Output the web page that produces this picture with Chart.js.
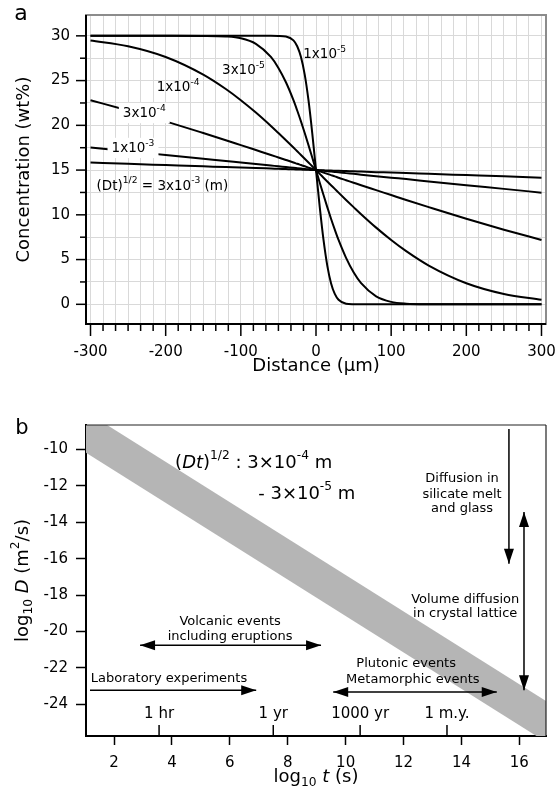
<!DOCTYPE html>
<html>
<head>
<meta charset="utf-8">
<script src="https://cdn.jsdelivr.net/npm/chart.js@4.4.1/dist/chart.umd.min.js"></script>
<style>
  html, body { margin: 0; padding: 0; background: #fff; }
  #wrap { position: relative; width: 557px; height: 801px; }
  canvas { position: absolute; left: 0; }
  #cA { top: 0; }
  #cB { top: 390px; }
</style>
</head>
<body>
<div id="wrap">
  <canvas id="cA" width="557" height="385"></canvas>
  <canvas id="cB" width="557" height="411"></canvas>
</div>
<script>
const FONT = '"DejaVu Sans", sans-serif';
Chart.defaults.font.family = FONT;
Chart.defaults.color = '#000';

// ---- panel a: concentration profiles ----
const distance = [-300, -250, -200, -150, -120, -100, -80, -60, -50, -40, -30, -25, -20, -15, -10, -5,
  0, 5, 10, 15, 20, 25, 30, 40, 50, 60, 80, 100, 120, 150, 200, 250, 300];
const conc1e5 = [30, 30, 30, 30, 30, 30, 30, 30, 29.99, 29.93, 29.49, 28.84, 27.64, 25.67, 22.81, 19.14,
  15, 10.86, 7.19, 4.33, 2.36, 1.16, 0.51, 0.07, 0.01, 0, 0, 0, 0, 0, 0, 0, 0];
const conc3e5 = [30, 30, 30, 29.99, 29.93, 29.73, 29.11, 27.64, 26.42, 24.81, 22.81, 21.66, 20.44, 19.14, 17.79, 16.41,
  15, 13.59, 12.21, 10.86, 9.56, 8.34, 7.19, 5.19, 3.58, 2.36, 0.89, 0.27, 0.07, 0.01, 0, 0, 0];
const conc1e4 = [29.49, 28.84, 27.64, 25.67, 24.06, 22.81, 21.43, 19.93, 19.14, 18.34, 17.52, 17.10, 16.69, 16.27, 15.85, 15.42,
  15, 14.58, 14.15, 13.73, 13.31, 12.90, 12.48, 11.66, 10.86, 10.07, 8.57, 7.19, 5.94, 4.33, 2.36, 1.16, 0.51];
const conc3e4 = [22.81, 21.66, 20.44, 19.14, 18.34, 17.79, 17.24, 16.69, 16.41, 16.13, 15.85, 15.70, 15.56, 15.42, 15.28, 15.14,
  15, 14.86, 14.72, 14.58, 14.44, 14.30, 14.15, 13.87, 13.59, 13.31, 12.76, 12.21, 11.66, 10.86, 9.56, 8.34, 7.19];
const conc1e3 = [17.52, 17.10, 16.69, 16.27, 16.01, 15.85, 15.68, 15.51, 15.42, 15.34, 15.25, 15.21, 15.17, 15.13, 15.08, 15.04,
  15, 14.96, 14.92, 14.87, 14.83, 14.79, 14.75, 14.66, 14.58, 14.49, 14.32, 14.15, 13.99, 13.73, 13.31, 12.90, 12.48];
const conc3e3 = [15.85, 15.70, 15.56, 15.42, 15.34, 15.28, 15.23, 15.17, 15.14, 15.11, 15.08, 15.07, 15.06, 15.04, 15.03, 15.01,
  15, 14.99, 14.97, 14.96, 14.94, 14.93, 14.92, 14.89, 14.86, 14.83, 14.77, 14.72, 14.66, 14.58, 14.44, 14.30, 14.15];
const curvesA = [conc1e5, conc3e5, conc1e4, conc3e4, conc1e3, conc3e3];

// labels of the curves, placed in data units (distance, concentration)
const curveNotes = [
  { x: -17, y: 27.9, parts: [['1x10'], ['-5', 'sup']] },
  { x: -125, y: 26.1, parts: [['3x10'], ['-5', 'sup']] },
  { x: -212, y: 24.2, parts: [['1x10'], ['-4', 'sup']] },
  { x: -257, y: 21.3, parts: [['3x10'], ['-4', 'sup']], bg: true },
  { x: -272, y: 17.4, parts: [['1x10'], ['-3', 'sup']], bg: true },
  { x: -292, y: 13.2, parts: [['(Dt)'], ['1/2', 'sup'], [' = 3x10'], ['-3', 'sup'], [' (m)']] }
];

// ---- panel b: log D vs log t ----
const bandT = [1, 17];
const bandUpper = [-7.9, -23.9];   // (Dt)^1/2 = 3e-4 m
const bandLower = [-10.15, -26.15]; // (Dt)^1/2 = 3e-5 m
const timeMarks = [3.556, 7.5, 10.5, 13.5];
const timeMarkLabels = ['1 hr', '1 yr', '1000 yr', '1 m.y.'];

const labArrowT = [1.17, 6.91], labArrowD = [-23.23, -23.23];
const volcArrowT = [2.90, 9.15], volcArrowD = [-20.75, -20.75];
const plutArrowT = [9.57, 15.22], plutArrowD = [-23.32, -23.32];
const meltArrowT = [15.64, 15.64], meltArrowD = [-8.88, -16.28];
const crystArrowT = [16.16, 16.16], crystArrowD = [-13.44, -23.23];

const notesB = [
  { x: 4.11, y: -10.75, align: 'left', size: 18, parts: [['('], ['Dt', 'i'], [')'], ['1/2', 'sup'], [' : 3×10'], ['-4', 'sup'], [' m']] },
  { x: 6.98, y: -12.46, align: 'left', size: 18, parts: [['- 3×10'], ['-5', 'sup'], [' m']] },
  { x: 14.02, y: -11.63, parts: [['Diffusion in']] },
  { x: 14.02, y: -12.47, parts: [['silicate melt']] },
  { x: 14.02, y: -13.28, parts: [['and glass']] },
  { x: 14.13, y: -18.25, parts: [['Volume diffusion']] },
  { x: 14.13, y: -19.02, parts: [['in crystal lattice']] },
  { x: 6.01, y: -19.48, parts: [['Volcanic events']] },
  { x: 6.01, y: -20.26, parts: [['including eruptions']] },
  { x: 3.90, y: -22.59, parts: [['Laboratory experiments']] },
  { x: 12.09, y: -21.76, parts: [['Plutonic events']] },
  { x: 12.32, y: -22.64, parts: [['Metamorphic events']] }
];

const isMult = (v, m) => Math.abs(v / m - Math.round(v / m)) < 1e-6;

function drawRich(ctx, parts, x, y, size, align, bg) {
  const segs = parts.map(([t, s]) => {
    const small = s === 'sup' || s === 'sub';
    const fs = small ? size * 0.68 : size;
    const font = (s === 'i' ? 'italic ' : '') + fs + 'px ' + FONT;
    ctx.font = font;
    return { t, font, w: ctx.measureText(t).width, dy: s === 'sup' ? -size * 0.4 : s === 'sub' ? size * 0.3 : 0 };
  });
  const total = segs.reduce((a, s) => a + s.w, 0);
  let cx = align === 'center' ? x - total / 2 : align === 'right' ? x - total : x;
  if (bg) {
    ctx.fillStyle = '#fff';
    ctx.fillRect(cx - 4, y - size * 0.8, total + 8, size * 1.5);
  }
  ctx.fillStyle = '#000';
  ctx.textBaseline = 'middle';
  ctx.textAlign = 'left';
  segs.forEach(s => { ctx.font = s.font; ctx.fillText(s.t, cx, y + s.dy); cx += s.w; });
}

function seg(ctx, x1, y1, x2, y2) {
  ctx.beginPath(); ctx.moveTo(x1, y1); ctx.lineTo(x2, y2); ctx.stroke();
}

// keep the plot box where the reference has it
function fixX(h) { return s => { s.height = h; s.paddingLeft = 0; s.paddingRight = 0; }; }
function fixY(w) { return s => { s.width = w; s.paddingTop = 0; s.paddingBottom = 0; }; }

const panelA = {
  id: 'panelA',
  afterDraw(chart) {
    const { ctx, chartArea: a, scales: { x, y } } = chart;
    ctx.save();
    ctx.strokeStyle = '#8c8c8c';
    ctx.lineWidth = 2;
    ctx.strokeRect(a.left, a.top, a.right - a.left, a.bottom - a.top);
    ctx.strokeStyle = '#000';
    ctx.beginPath();
    ctx.moveTo(a.left, a.top); ctx.lineTo(a.left, a.bottom); ctx.lineTo(a.right, a.bottom);
    ctx.stroke();
    ctx.lineWidth = 1.5;
    x.ticks.forEach(t => {
      const px = x.getPixelForValue(t.value);
      seg(ctx, px, a.bottom + 1, px, a.bottom + (isMult(t.value, 100) ? 12 : 7));
    });
    y.ticks.forEach(t => {
      const py = y.getPixelForValue(t.value);
      seg(ctx, a.left - 1, py, a.left - (isMult(t.value, 5) ? 10 : 6), py);
    });
    curveNotes.forEach(n => {
      drawRich(ctx, n.parts, x.getPixelForValue(n.x), y.getPixelForValue(n.y), 13.5, 'left', n.bg);
    });
    ctx.font = '22px ' + FONT;
    ctx.textAlign = 'center';
    ctx.textBaseline = 'middle';
    ctx.fillText('a', 21, 14);
    ctx.restore();
  }
};

new Chart(document.getElementById('cA'), {
  type: 'line',
  data: {
    datasets: curvesA.map(vals => ({
      data: distance.map((d, i) => ({ x: d, y: vals[i] })),
      borderColor: '#000',
      borderWidth: 2,
      pointRadius: 0,
      fill: false,
      cubicInterpolationMode: 'monotone'
    }))
  },
  options: {
    responsive: false,
    animation: false,
    events: [],
    layout: { padding: { top: 15, right: 11, left: 0, bottom: 0 } },
    plugins: { legend: { display: false }, tooltip: { enabled: false } },
    scales: {
      x: {
        type: 'linear', min: -306, max: 306,
        afterFit: fixX(61),
        ticks: {
          stepSize: 100 / 6, includeBounds: false, autoSkip: false, maxRotation: 0, padding: 19,
          font: { size: 15 },
          callback: v => isMult(v, 100) ? String(Math.round(v)) : ''
        },
        grid: { color: '#d9d9d9', lineWidth: 1, drawTicks: false },
        border: { display: false },
        title: { display: true, text: 'Distance (μm)', font: { size: 18 }, padding: { top: 0, bottom: 8 } }
      },
      y: {
        type: 'linear', min: -2.2, max: 32.33,
        afterFit: fixY(86),
        ticks: {
          stepSize: 2.5, includeBounds: false, autoSkip: false, padding: 16,
          font: { size: 15 },
          callback: v => isMult(v, 5) ? String(Math.round(v)) : ''
        },
        grid: { color: '#d9d9d9', lineWidth: 1, drawTicks: false },
        border: { display: false },
        title: { display: true, text: 'Concentration (wt%)', font: { size: 18 }, padding: { top: 14, bottom: 0 } }
      }
    }
  },
  plugins: [panelA]
});

function arrowHead(ctx, from, to, len, hw) {
  const ang = Math.atan2(to.y - from.y, to.x - from.x);
  const bx = to.x - len * Math.cos(ang), by = to.y - len * Math.sin(ang);
  const nx = -Math.sin(ang) * hw, ny = Math.cos(ang) * hw;
  ctx.beginPath();
  ctx.moveTo(to.x, to.y);
  ctx.lineTo(bx + nx, by + ny);
  ctx.lineTo(bx - nx, by - ny);
  ctx.closePath();
  ctx.fill();
}

const panelB = {
  id: 'panelB',
  afterDatasetsDraw(chart) {
    const { ctx } = chart;
    ctx.save();
    ctx.fillStyle = '#000';
    chart.data.datasets.forEach((ds, i) => {
      if (!ds.heads) return;
      const pts = chart.getDatasetMeta(i).data;
      arrowHead(ctx, pts[0], pts[1], 15, 5);
      if (ds.heads === 'both') arrowHead(ctx, pts[1], pts[0], 15, 5);
    });
    ctx.restore();
  },
  afterDraw(chart) {
    const { ctx, chartArea: a, scales: { x, y } } = chart;
    ctx.save();
    ctx.strokeStyle = '#222';
    ctx.lineWidth = 1.2;
    seg(ctx, a.left, a.top, a.right, a.top);
    seg(ctx, a.right, a.top, a.right, a.bottom);
    ctx.strokeStyle = '#000';
    ctx.lineWidth = 1.5;
    ctx.fillStyle = '#000';
    timeMarks.forEach((v, i) => {
      const px = x.getPixelForValue(v);
      seg(ctx, px, a.bottom - 1, px, a.bottom - 11);
      ctx.font = '15px ' + FONT;
      ctx.textAlign = 'center';
      ctx.textBaseline = 'middle';
      ctx.fillText(timeMarkLabels[i], px, a.bottom - 22);
    });
    notesB.forEach(n => {
      drawRich(ctx, n.parts, x.getPixelForValue(n.x), y.getPixelForValue(n.y), n.size || 13, n.align || 'center');
    });
    drawRich(ctx, [['log'], ['10', 'sub'], [' '], ['t', 'i'], [' (s)']], (a.left + a.right) / 2, 387, 18, 'center');
    ctx.translate(23, (a.top + a.bottom) / 2);
    ctx.rotate(-Math.PI / 2);
    drawRich(ctx, [['log'], ['10', 'sub'], [' '], ['D', 'i'], [' (m'], ['2', 'sup'], ['/s)']], 0, 0, 18, 'center');
    ctx.restore();
    ctx.save();
    ctx.font = '21px ' + FONT;
    ctx.textAlign = 'center';
    ctx.textBaseline = 'middle';
    ctx.fillStyle = '#000';
    ctx.fillText('b', 22, 39);
    ctx.restore();
  }
};

const arrowStyle = { borderColor: '#000', borderWidth: 1.5, pointRadius: 0, fill: false, order: 0 };
const pts = (ts, ds) => ts.map((t, i) => ({ x: t, y: ds[i] }));

new Chart(document.getElementById('cB'), {
  type: 'line',
  data: {
    datasets: [
      { data: pts(bandT, bandUpper), fill: '+1', backgroundColor: '#b5b5b5', borderColor: 'rgba(0,0,0,0)', borderWidth: 0, pointRadius: 0, order: 10 },
      { data: pts(bandT, bandLower), fill: false, borderColor: 'rgba(0,0,0,0)', borderWidth: 0, pointRadius: 0, order: 11 },
      { ...arrowStyle, data: pts(labArrowT, labArrowD), heads: 'end' },
      { ...arrowStyle, data: pts(volcArrowT, volcArrowD), heads: 'both' },
      { ...arrowStyle, data: pts(plutArrowT, plutArrowD), heads: 'both' },
      { ...arrowStyle, data: pts(meltArrowT, meltArrowD), heads: 'end' },
      { ...arrowStyle, data: pts(crystArrowT, crystArrowD), heads: 'both' }
    ]
  },
  options: {
    responsive: false,
    animation: false,
    events: [],
    layout: { padding: { top: 35, right: 11, left: 0, bottom: 0 } },
    plugins: { legend: { display: false }, tooltip: { enabled: false } },
    scales: {
      x: {
        type: 'linear', min: 1.032, max: 16.92,
        afterFit: fixX(65),
        ticks: { stepSize: 2, includeBounds: false, maxRotation: 0, padding: 9, font: { size: 15 }, callback: v => String(v) },
        grid: { drawOnChartArea: false, drawTicks: true, tickLength: 9, tickColor: '#000', tickWidth: 1.5 },
        border: { display: true, color: '#000', width: 2 }
      },
      y: {
        type: 'linear', min: -25.74, max: -8.66,
        afterFit: fixY(86),
        ticks: { stepSize: 2, includeBounds: false, padding: 8, font: { size: 15 }, callback: v => String(v) },
        grid: { drawOnChartArea: false, drawTicks: true, tickLength: 10, tickColor: '#000', tickWidth: 1.5 },
        border: { display: true, color: '#000', width: 2 }
      }
    }
  },
  plugins: [panelB]
});
</script>
</body>
</html>
